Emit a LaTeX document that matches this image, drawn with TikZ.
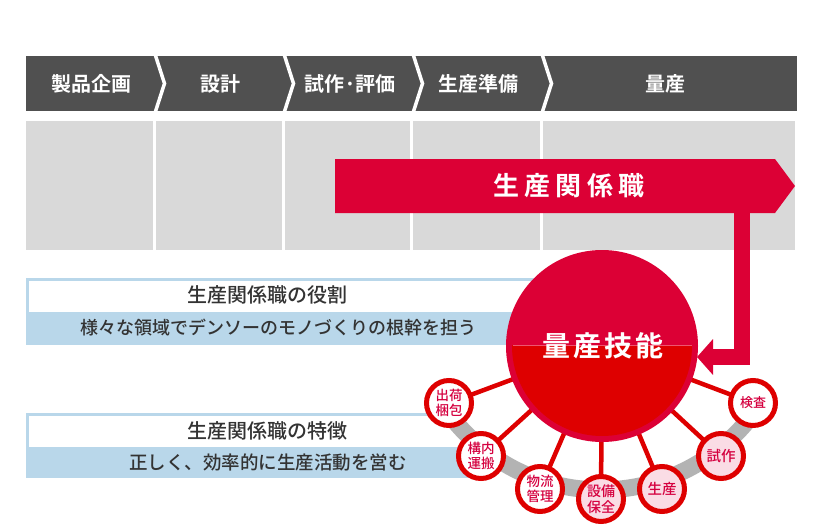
\documentclass[tikz,border=0pt]{standalone}
\usepackage{fontspec}
\setmainfont{Noto Sans CJK JP}
\newfontfamily\jpr{Noto Sans CJK JP Medium}
\newfontfamily\jpb{Noto Sans CJK JP Bold}
\usetikzlibrary{arrows.meta}
\definecolor{darkbar}{HTML}{505050}
\definecolor{grayarea}{HTML}{D9D9D9}
\definecolor{crimson}{HTML}{DC0035}
\definecolor{brightred}{HTML}{DE0000}
\definecolor{lightblue}{HTML}{B9D7EA}
\definecolor{textdark}{HTML}{333333}
\definecolor{bandgray}{HTML}{B3B3B3}
\definecolor{pinkfill}{HTML}{FADCE5}
\definecolor{smalltext}{HTML}{D5003F}
\definecolor{seam}{HTML}{EE5570}
\pgfdeclarelayer{bg}\pgfdeclarelayer{mid}
\pgfsetlayers{bg,mid,main}
\tikzset{
  toplabel/.style={text=white, font=\jpb\fontsize{20}{20}\selectfont, inner sep=0pt},
  boxtitle/.style={text=textdark, font=\jpr\fontsize{20}{20}\selectfont, inner sep=0pt},
  boxsub/.style={text=textdark, font=\jpr\fontsize{18.5}{18.5}\selectfont, inner sep=0pt},
  chev/.style={white, line width=3.5pt, line join=miter},
  smallc/.style={circle, draw=brightred, line width=5pt, fill=white, minimum size=45pt,
    inner sep=0pt, text=smalltext, align=center, font=\jpr\fontsize{13.5}{15}\selectfont},
  pinkc/.style={smallc, fill=pinkfill},
  spoke/.style={brightred, line width=4.5pt},
}
\begin{document}
\begin{tikzpicture}[x=1pt,y=-1pt]
\useasboundingbox (0,0) rectangle (814,525);
\begin{pgfonlayer}{bg}
\fill[white] (0,0) rectangle (814,525);
% top process bar
\fill[darkbar] (26,56) rectangle (797,111);
\foreach \sx in {155,284,413,542}
  \draw[chev] (\sx,54) -- (\sx+9.5,83.5) -- (\sx,113);
\node[toplabel] (s1) at (91,83.5) {製品企画};
\node[toplabel] (s2) at (220,83.5) {設計};
\node[toplabel] (s3) at (350,83.5) {試作·評価};
\node[toplabel] (s4) at (478,83.5) {生産準備};
\node[toplabel] (s5) at (665,83.5) {量産};
% gray columns
\fill[grayarea] (26,121) rectangle (153,250);
\fill[grayarea] (156,121) rectangle (281.5,250);
\fill[grayarea] (284.5,121) rectangle (409.5,250);
\fill[grayarea] (412.5,121) rectangle (539.5,250);
\fill[grayarea] (542.5,121) rectangle (795,250);
% box 1
\fill[white] (26,278) rectangle (545,312);
\fill[lightblue] (26,311.5) rectangle (545,344.5);
\draw[lightblue, line width=3pt] (27.5,312) -- (27.5,279.5) -- (545,279.5);
\node[boxtitle] (t1) at (267,295) {生産関係職の役割};
\node[boxsub, font=\jpr\fontsize{18}{18}\selectfont] (u1) at (278,327.5) {様々な領域でデンソーのモノづくりの根幹を担う};
% box 2
\fill[white] (26,413) rectangle (470,447);
\fill[lightblue] (26,446.5) rectangle (480,478);
\draw[lightblue, line width=3pt] (27.5,447) -- (27.5,414.5) -- (470,414.5);
\node[boxtitle] (t2) at (267,431) {生産関係職の特徴};
\node[boxsub] (u2) at (268,462.5) {正しく、効率的に生産活動を営む};
% gray band
\draw[bandgray, line width=17pt] plot[domain=34:146, samples=80] ({601+190*cos(\x)},{300+190*sin(\x)});
\end{pgfonlayer}
% big circle
\node[circle, fill=crimson, minimum size=192pt, inner sep=0pt] (mass) at (602,346) {};
\begin{scope}
  \clip (500,345) rectangle (704,445);
  \fill[brightred] (602,346) circle[radius=90pt];
\end{scope}
\draw[seam, line width=0.8pt] (512.5,345) -- (691.5,345);
\node[text=white, font=\jpb\fontsize{28}{28}\selectfont\addfontfeature{LetterSpace=10}, inner sep=0pt] (masst) at (603,346) {量産技能};
% small circles
\node[smallc] (c1) at (449,403) {出荷\\梱包};
\node[smallc] (c2) at (481,456) {構内\\運搬};
\node[smallc] (c3) at (540,489) {物流\\管理};
\node[pinkc, font=\jpr\fontsize{14}{15.5}\selectfont] (c4) at (601,499) {設備\\保全};
\node[pinkc, font=\jpr\fontsize{14.5}{15}\selectfont] (c5) at (662,489) {生産};
\node[pinkc, font=\jpr\fontsize{14.5}{15}\selectfont] (c6) at (721,456) {試作};
\node[smallc, font=\jpr\fontsize{13}{15}\selectfont] (c7) at (753,403) {検査};
\begin{pgfonlayer}{mid}
\foreach \k in {1,...,7}
  \draw[spoke] (mass.center) -- (c\k.center);
\end{pgfonlayer}
% red role arrow
\fill[crimson] (335,159) -- (775,159) -- (795,186) -- (775,213) -- (335,213) -- cycle;
\node[text=white, font=\jpb\fontsize{26}{26}\selectfont\addfontfeature{LetterSpace=20}, inner sep=0pt] (bar) at (569,186) {生産関係職};
\coordinate (aStart) at (742,205);
\coordinate (aEnd) at (697,357);
\draw[crimson, line width=16pt, line join=miter, -{Triangle[length=16pt,width=35pt]}] (aStart) |- (aEnd);
\end{tikzpicture}
\end{document}
